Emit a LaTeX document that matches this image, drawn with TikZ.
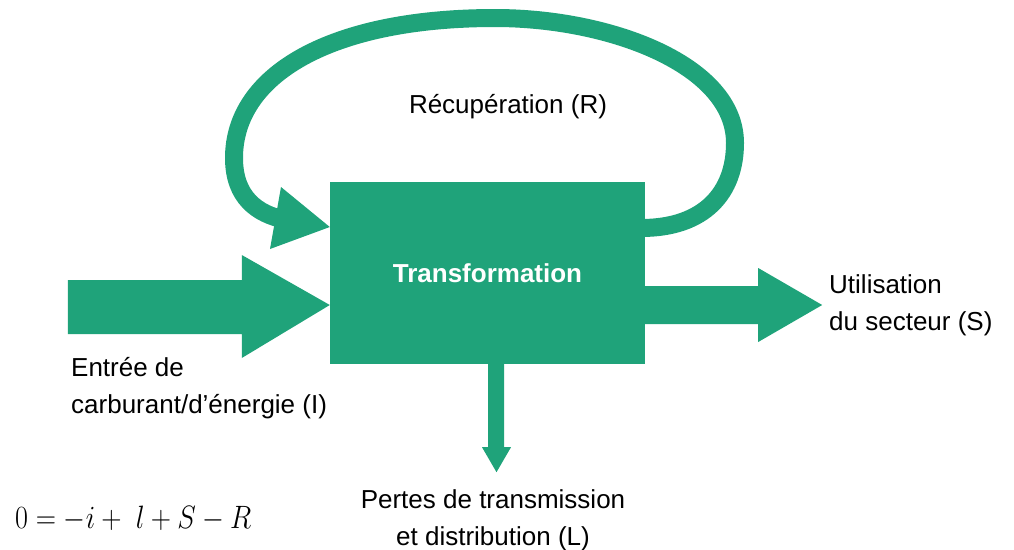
\documentclass[tikz,border=0pt]{standalone}
\usepackage[no-math]{fontspec}
\setmainfont{Liberation Sans}
\usetikzlibrary{calc}
\definecolor{flowgreen}{HTML}{1FA37A}
\begin{document}
\begin{tikzpicture}[x=1pt,y=-1pt,
  flow/.style={fill=flowgreen},
  loopline/.style={draw=flowgreen,line width=18pt},
  lbl/.style={font=\fontsize{26}{37}\selectfont,inner sep=0pt,text=black},
  box/.style={fill=flowgreen,inner sep=0pt,minimum width=315pt,minimum height=182pt,
    text=white,font=\fontsize{26}{37}\selectfont\bfseries}]
\useasboundingbox (0,0) rectangle (1014,549);

% central box
\node[box] (T) at (487.5,273) {Transformation};

% labels (base anchor = baseline of the last line)
\node[lbl, anchor=base] (R) at (508,113) {Récupération (R)};
\node[lbl, anchor=base west, align=left] (S) at (829,330) {Utilisation\\du secteur (S)};
\node[lbl, anchor=base west, align=left] (I) at (71,413) {Entrée de\\carburant/d’énergie (I)};
\node[lbl, anchor=base, align=center] (L) at (493,545) {Pertes de transmission\\et distribution (L)};
\node[inner sep=0pt, anchor=base west, font=\fontsize{24.88}{30}\selectfont] (eq) at (15,528)
  {\scalebox{1.13}[1.3]{$0=-i+\;l+S-R$}};

% input arrow (I -> T)
\coordinate (inTip) at (T.west |- 0,305);
\fill[flow] (inTip) -- ++(-88,-50) -- ++(0,25) -- ++(-174,0) -- ++(0,54)
  -- ++(174,0) -- ++(0,24) -- cycle;

% output arrow (T -> S)
\coordinate (outBase) at (T.east |- 0,286);
\fill[flow] ($(outBase)+(-2,0)$) -- ++(115,0) -- ++(0,-18) -- ++(64,37) -- ++(-64,37)
  -- ++(0,-18) -- ++(-115,0) -- cycle;

% loss arrow (T -> L)
\coordinate (lossBase) at (T.south -| 488,0);
\fill[flow] ($(lossBase)+(0,-2)$) -- ++(0,85) -- ++(-6,0) -- ++(14.5,25) -- ++(14.5,-25)
  -- ++(-7,0) -- ++(0,-85) -- cycle;

% recovery loop (T -> T)
\coordinate (loopStart) at ($(T.east |- 0,228)+(-4,0)$);
\coordinate (loopEnd) at (284,219.5);
\draw[loopline] (loopStart) .. controls (705,228) and (735,192) .. (735,143)
  .. controls (735,65) and (610,18) .. (495,18)
  .. controls (330,18) and (234,75) .. (234,158)
  .. controls (234,198) and (258,214) .. (loopEnd);
\fill[flow] (T.west |- 0,227) -- (281,187) -- (270,249) -- cycle;
\end{tikzpicture}
\end{document}
